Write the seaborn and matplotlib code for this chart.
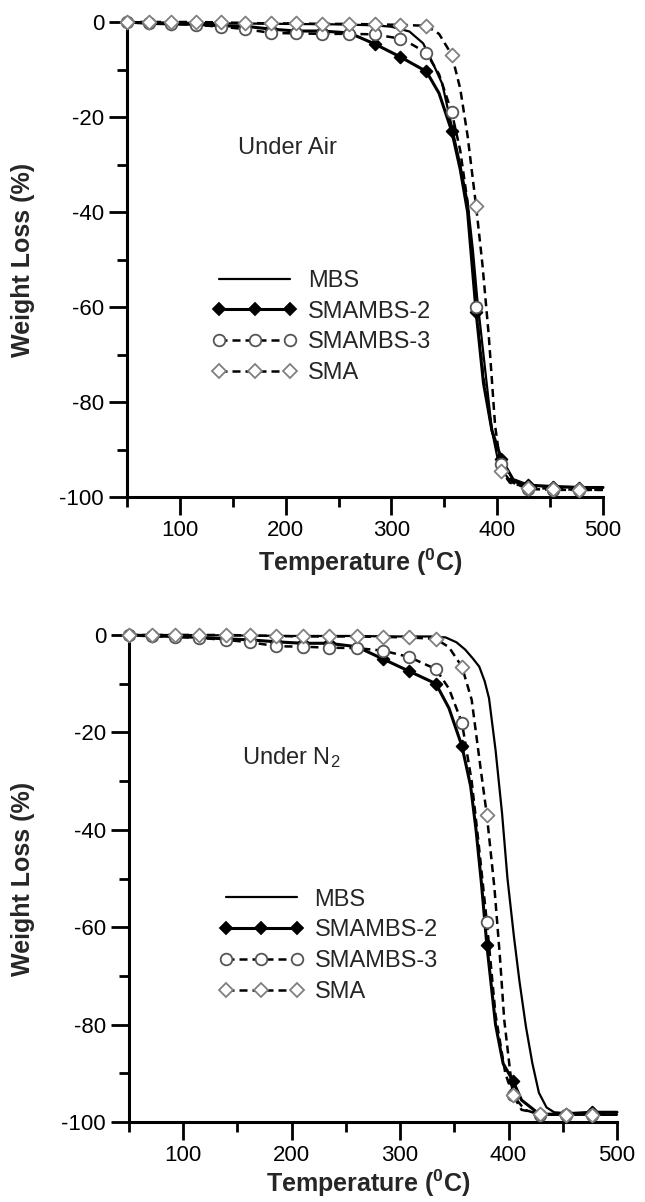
import numpy as np
import pandas as pd
import matplotlib
matplotlib.use("Agg")
import matplotlib.pyplot as plt
import seaborn as sns
from matplotlib.lines import Line2D

# temperatures where the plotting symbols sit
MARK_T = [50, 71, 92, 115, 139, 162, 186, 210, 234, 260, 284, 308, 333, 357, 380, 404, 429, 453, 477]

# ---- Under Air ----
air_mbs_t = [50, 150, 250, 285, 300, 317, 330, 339, 348, 357, 365, 372, 377, 381, 386, 390, 395, 400, 405, 412, 425, 450, 500]
air_mbs_w = [0, -0.3, -0.5, -0.7, -1.0, -2.0, -4.5, -8.6, -13, -22, -30, -38, -48, -58, -68, -76, -86, -91.5, -94.5, -96.5, -97.5, -97.8, -98]

air_s2_t = [50, 71, 92, 115, 139, 162, 186, 210, 234, 260, 284, 308, 320, 333, 345, 357, 365, 372, 380, 387, 395, 404, 415, 429, 453, 477, 500]
air_s2_w = [0, -0.3, -0.4, -0.5, -0.8, -0.9, -1.5, -1.9, -1.9, -2.3, -4.6, -7.3, -8.8, -10.4, -15, -23, -31, -40, -61, -76, -86, -92, -96.3, -97.5, -97.8, -98, -98]

air_s3_t = [50, 71, 92, 115, 139, 162, 186, 210, 234, 260, 284, 308, 320, 333, 345, 357, 365, 372, 380, 387, 395, 404, 415, 429, 453, 477, 500]
air_s3_w = [0, -0.2, -0.4, -0.6, -1.0, -1.5, -2.3, -2.4, -2.5, -2.5, -2.6, -3.5, -4.8, -6.5, -11, -19, -27, -38, -60, -75, -86, -93, -97, -98.3, -98.5, -98.5, -98.5]

air_sma_t = [50, 71, 92, 115, 139, 162, 186, 210, 234, 260, 284, 308, 333, 345, 357, 365, 372, 380, 386, 392, 398, 404, 412, 429, 453, 477, 500]
air_sma_w = [0, 0, 0, 0, -0.1, -0.2, -0.3, -0.3, -0.4, -0.4, -0.5, -0.6, -0.8, -2.5, -6.9, -14, -24, -38.7, -51, -66, -85, -94.5, -97, -98, -98.3, -98.5, -98.5]

# ---- Under N2 ----
n2_mbs_t = [50, 100, 150, 200, 250, 300, 330, 342, 352, 360, 367, 373, 378, 382, 388, 394, 399, 405, 410, 416, 422, 428, 435, 442, 460, 500]
n2_mbs_w = [0, 0, -0.1, -0.2, -0.2, -0.3, -0.3, -0.5, -1.5, -3, -4.8, -6.5, -9.5, -13, -23.6, -36.6, -50, -62, -71, -80.4, -88, -94, -97, -98, -98.3, -98.5]

n2_s2_t = [50, 71, 92, 115, 139, 162, 186, 210, 234, 260, 284, 308, 333, 345, 357, 365, 370, 375, 380, 388, 395, 404, 412, 429, 453, 477, 500]
n2_s2_w = [0, -0.2, -0.3, -0.5, -0.8, -1.0, -1.4, -1.7, -1.7, -2.4, -4.9, -7.4, -10, -15, -22.8, -31, -40, -51, -63.7, -80, -88, -91.5, -95.5, -98.5, -98.3, -98, -98]

n2_s3_t = [50, 71, 92, 115, 139, 162, 186, 210, 234, 260, 284, 308, 333, 345, 357, 366, 372, 380, 388, 397, 404, 415, 429, 453, 477, 500]
n2_s3_w = [0, -0.2, -0.4, -0.6, -1.0, -1.5, -2.3, -2.4, -2.6, -2.7, -3.2, -4.5, -7.0, -11, -18, -30, -42, -59, -78, -90, -94.5, -97.5, -98.5, -98.5, -98.5, -98.5]

n2_sma_t = [50, 71, 92, 115, 139, 162, 186, 210, 234, 260, 284, 308, 333, 345, 357, 366, 374, 380, 387, 392, 396, 404, 412, 429, 453, 477, 500]
n2_sma_w = [0, 0, 0, 0, 0, -0.1, -0.2, -0.3, -0.3, -0.3, -0.4, -0.5, -0.8, -2.5, -6.5, -13.3, -27, -37, -52, -66, -79, -94.5, -97.5, -98.3, -98.5, -98.5, -98.5]

labels = ["MBS", "SMAMBS-2", "SMAMBS-3", "SMA"]
x_major = [100, 200, 300, 400, 500]
x_minor = [50, 150, 250, 350, 450]
y_major = [0, -20, -40, -60, -80, -100]
y_minor = [-10, -30, -50, -70, -90]

DASH = (0, (3.2, 2.0))
STYLE = {
    "MBS":      dict(lw=1.6, ls="-",  marker=None, fc=None, ec=None, s=0),
    "SMAMBS-2": dict(lw=2.2, ls="-",  marker="D", fc="black", ec="black", s=36),
    "SMAMBS-3": dict(lw=1.8, ls=DASH, marker="o", fc="white", ec="#555555", s=70),
    "SMA":      dict(lw=1.8, ls=DASH, marker="D", fc="white", ec="#808080", s=50),
}

sns.set_style("ticks")
plt.rcParams["font.family"] = ["Liberation Sans", "DejaVu Sans"]
plt.rcParams["axes.unicode_minus"] = False
plt.rcParams["mathtext.fontset"] = "custom"
plt.rcParams["mathtext.rm"] = "Liberation Sans"
plt.rcParams["mathtext.bf"] = "Liberation Sans:bold"
plt.rcParams["mathtext.it"] = "Liberation Sans:italic"


def draw_panel(ax, series, note, note_xy, leg_xy, xlab_y):
    for name, (t, w) in zip(labels, series):
        st = STYLE[name]
        t = np.asarray(t, float)
        w = np.asarray(w, float)
        sns.lineplot(x=t, y=w, ax=ax, color="black", linewidth=st["lw"],
                     linestyle=st["ls"], sort=False, estimator=None,
                     legend=False, clip_on=False, zorder=2)
        if st["marker"]:
            m = np.isin(t, MARK_T)
            sns.scatterplot(x=t[m], y=w[m], ax=ax, marker=st["marker"], s=st["s"],
                            color=st["fc"], edgecolor=st["ec"], linewidth=1.3,
                            legend=False, clip_on=False, zorder=3)

    ax.set_xlim(50, 500)
    ax.set_ylim(-100, 0)
    ax.set_xticks(x_major)
    ax.set_xticks(x_minor, minor=True)
    ax.set_yticks(y_major)
    ax.set_yticks(y_minor, minor=True)
    ax.tick_params(which="major", direction="out", length=13, width=2,
                   labelsize=16, color="black", labelcolor="black")
    ax.tick_params(which="minor", direction="out", length=7, width=2, color="black")
    sns.despine(ax=ax)
    for sp in ("left", "bottom"):
        ax.spines[sp].set_linewidth(2.2)
        ax.spines[sp].set_color("black")

    ax.set_xlabel(r"Temperature ($\mathbf{^0}$C)", fontsize=18, fontweight="bold")
    ax.set_ylabel("Weight Loss (%)", fontsize=18, fontweight="bold")
    ax.xaxis.set_label_coords(0.49, xlab_y)
    ax.yaxis.set_label_coords(-0.193, 0.5)

    ax.text(note_xy[0], note_xy[1], note, transform=ax.transAxes,
            fontsize=17, va="center", ha="left")

    handles = []
    for name in labels:
        st = STYLE[name]
        handles.append(Line2D([], [], color="black", linewidth=st["lw"], linestyle=st["ls"],
                              marker=st["marker"] if st["marker"] else "None",
                              markersize=np.sqrt(st["s"]) if st["s"] else 0,
                              markerfacecolor=st["fc"], markeredgecolor=st["ec"],
                              markeredgewidth=1.3))
    ax.legend(handles, labels, loc="upper left", bbox_to_anchor=leg_xy,
              frameon=False, fontsize=17, numpoints=3, handlelength=3.6,
              handletextpad=0.45, labelspacing=0.37, borderpad=0, borderaxespad=0)


fig = plt.figure(figsize=(6.45, 12.02), dpi=100)
ax1 = fig.add_axes([127 / 645, 1 - 497 / 1202, 476 / 645, 475 / 1202])
ax2 = fig.add_axes([129 / 645, 1 - 1122 / 1202, 488 / 645, 487 / 1202])

draw_panel(ax1,
           [(air_mbs_t, air_mbs_w), (air_s2_t, air_s2_w), (air_s3_t, air_s3_w), (air_sma_t, air_sma_w)],
           "Under Air", (0.233, 0.735), (0.179, 0.478), -0.104)
draw_panel(ax2,
           [(n2_mbs_t, n2_mbs_w), (n2_s2_t, n2_s2_w), (n2_s3_t, n2_s3_w), (n2_sma_t, n2_sma_w)],
           r"Under N$_2$", (0.232, 0.749), (0.184, 0.479), -0.094)

fig.savefig("out.png", dpi=100, facecolor="white")
